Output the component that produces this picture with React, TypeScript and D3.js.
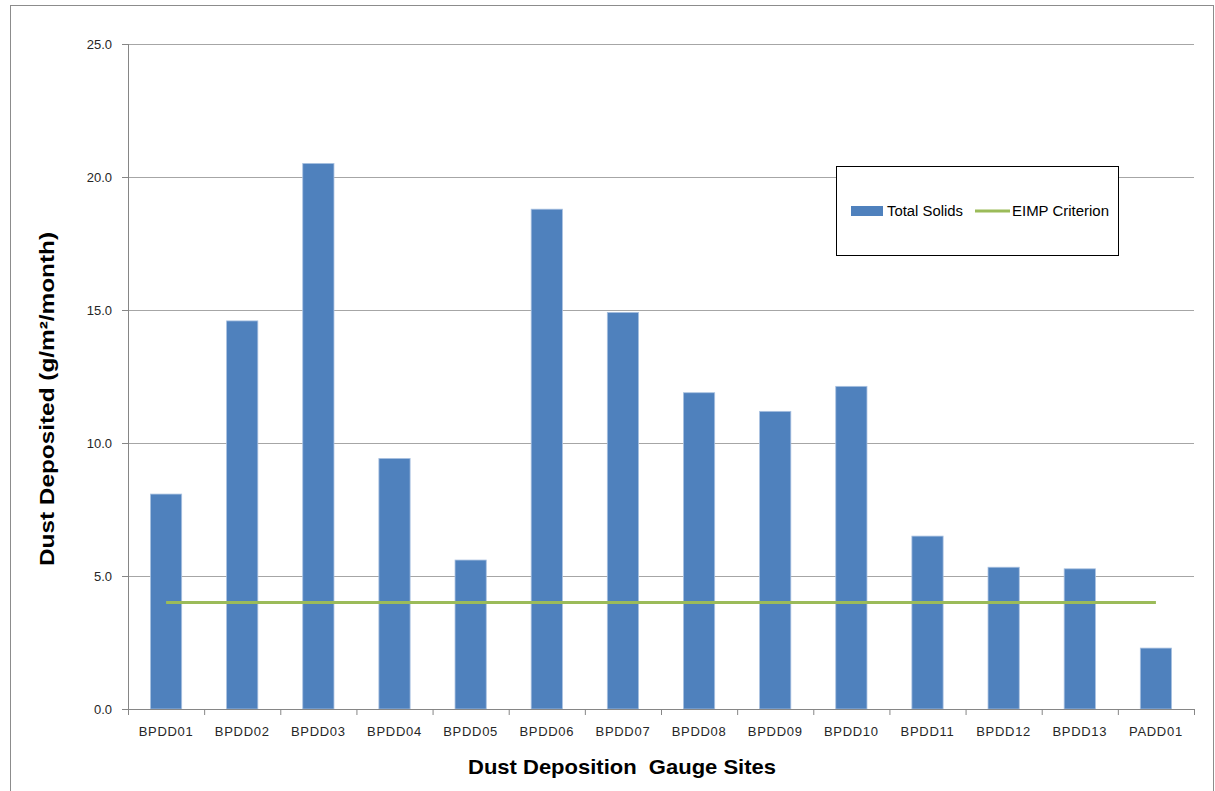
import React from "react";
import * as d3 from "d3";

const categories = ["BPDD01","BPDD02","BPDD03","BPDD04","BPDD05","BPDD06","BPDD07","BPDD08","BPDD09","BPDD10","BPDD11","BPDD12","BPDD13","PADD01"];
const totalSolids = [8.08, 14.59, 20.51, 9.42, 5.6, 18.79, 14.91, 11.89, 11.19, 12.13, 6.5, 5.33, 5.27, 2.29];
const criterion = [4.0, 4.0, 4.0, 4.0, 4.0, 4.0, 4.0, 4.0, 4.0, 4.0, 4.0, 4.0, 4.0, 4.0];
const yTicks = [0, 5, 10, 15, 20, 25];

const W = 1215, H = 791;
const M = { left: 128, right: 1194, top: 44, bottom: 709 };
const FONT = "'Liberation Sans', Arial, sans-serif";

export default function App() {
  const x = d3.scaleBand<string>().domain(categories).range([M.left, M.right]).paddingInner(0.59).paddingOuter(0.295);
  const xb = d3.scaleBand<string>().domain(categories).range([M.left, M.right]);
  const y = d3.scaleLinear().domain([0, 25]).range([M.bottom, M.top]);
  const line = d3.line<number>()
    .x((_, i) => (xb(categories[i]) as number) + xb.bandwidth() / 2)
    .y((d) => y(d));
  const boundaries = categories.map((c) => xb(c) as number).concat([M.right]);

  return (
    <svg width={W} height={H} style={{ position: "absolute", left: 0, top: 0, background: "#fff" }} fontFamily={FONT}>
      <rect x={10.5} y={5.5} width={1203} height={800} fill="#fff" stroke="#8c8c8c" strokeWidth={1} />
      {yTicks.map((t) => (
        <g key={t}>
          {t > 0 && <line x1={M.left} x2={M.right} y1={y(t) + 0.5} y2={y(t) + 0.5} stroke="#a6a6a6" strokeWidth={1} />}
          <line x1={M.left - 6} x2={M.left} y1={y(t) + 0.5} y2={y(t) + 0.5} stroke="#868686" strokeWidth={1} />
          <text x={112} y={y(t)} dy="0.35em" textAnchor="end" fontSize={13} fill="#262626">{t.toFixed(1)}</text>
        </g>
      ))}
      {categories.map((c, i) => (
        <rect key={c} x={x(c)} y={y(totalSolids[i])} width={x.bandwidth()} height={y(0) - y(totalSolids[i])}
          fill="#4f81bd" stroke="#a9c1e0" strokeWidth={0.8} />
      ))}
      <line x1={M.left + 0.5} x2={M.left + 0.5} y1={M.top} y2={M.bottom} stroke="#868686" strokeWidth={1} />
      <line x1={M.left} x2={M.right} y1={M.bottom + 0.5} y2={M.bottom + 0.5} stroke="#868686" strokeWidth={1} />
      {boundaries.map((b, i) => (
        <line key={i} x1={b + 0.5} x2={b + 0.5} y1={M.bottom} y2={M.bottom + 6} stroke="#868686" strokeWidth={1} />
      ))}
      <path d={line(criterion) || ""} fill="none" stroke="#9bbb59" strokeWidth={3} />
      {categories.map((c) => (
        <text key={c} x={(xb(c) as number) + xb.bandwidth() / 2} y={731} dy="0.35em" textAnchor="middle" fontSize={13} fill="#262626" letterSpacing={0.7}>{c}</text>
      ))}
      <text x={468} y={767} dy="0.35em" fontSize={21} fontWeight="bold" fill="#000" textLength={308} lengthAdjust="spacingAndGlyphs" style={{ whiteSpace: "pre" }}>Dust Deposition  Gauge Sites</text>
      <text transform={`translate(47,566) rotate(-90)`} dy="0.35em" fontSize={21} fontWeight="bold" fill="#000" textLength={334} lengthAdjust="spacingAndGlyphs">Dust Deposited (g/m²/month)</text>
      <g>
        <rect x={836.5} y={166.5} width={282} height={89} fill="#fff" stroke="#000" strokeWidth={1} />
        <rect x={851} y={206} width={32} height={10} fill="#4f81bd" />
        <text x={887} y={211} dy="0.35em" fontSize={14} fill="#000" textLength={76} lengthAdjust="spacingAndGlyphs">Total Solids</text>
        <line x1={975} x2={1010} y1={211} y2={211} stroke="#9bbb59" strokeWidth={3} />
        <text x={1012} y={211} dy="0.35em" fontSize={14} fill="#000" textLength={97} lengthAdjust="spacingAndGlyphs">EIMP Criterion</text>
      </g>
    </svg>
  );
}
